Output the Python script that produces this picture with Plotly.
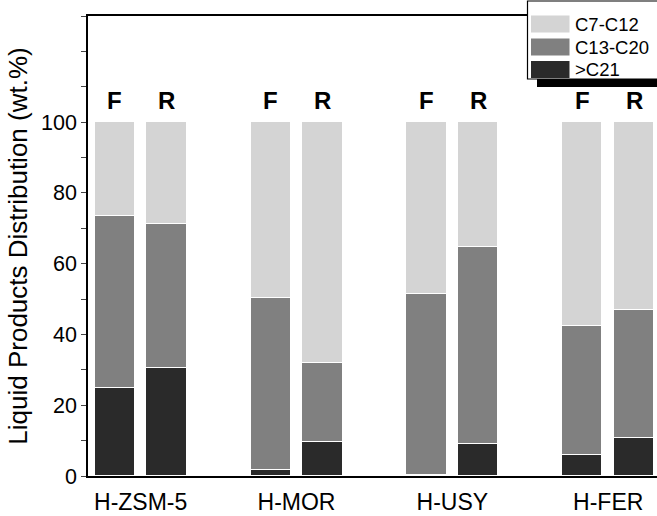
import plotly.graph_objects as go

catalysts = ["H-ZSM-5", "H-MOR", "H-USY", "H-FER"]
modes = ["F", "R"]
series_names = ["C7-C12", "C13-C20", ">C21"]

# cumulative tops, converted to segment values
gt_c21 = [25.0, 30.4, 1.6, 9.5, 0.4, 9.1, 5.9, 10.7]
c13_c20 = [73.4 - 25.0, 71.2 - 30.4, 50.4 - 1.6, 32.0 - 9.5,
           51.5 - 0.4, 64.7 - 9.1, 42.4 - 5.9, 47.0 - 10.7]
c7_c12 = [100 - 73.4, 100 - 71.2, 100 - 50.4, 100 - 32.0,
          100 - 51.5, 100 - 64.7, 100 - 42.4, 100 - 47.0]

colors = {"C7-C12": "#d4d4d4", "C13-C20": "#808080", ">C21": "#2a2a2a"}
values = {"C7-C12": c7_c12, "C13-C20": c13_c20, ">C21": gt_c21}

FONT = "Liberation Sans, Arial"
offset = 0.166
bar_w = 0.258
xpos = []
for g in range(len(catalysts)):
    for m in range(len(modes)):
        xpos.append(g + 1 + (-offset if m == 0 else offset))

fig = go.Figure()
for name in [">C21", "C13-C20", "C7-C12"]:
    fig.add_trace(go.Bar(
        x=xpos, y=values[name], name=name, width=bar_w, showlegend=False,
        marker=dict(color=colors[name], line=dict(color="white", width=1.5)),
    ))

annotations = []
for i, xp in enumerate(xpos):
    annotations.append(dict(x=xp, y=106, xref="x", yref="y", text="<b>%s</b>" % modes[i % 2],
                            showarrow=False, font=dict(size=24, color="black", family=FONT)))

L, R, T, B = 88, 0, 16, 40
W, H = 657, 516
pw, ph = W - L - R, H - T - B
def px(x): return (x - L) / pw
def py(y): return (H - B - y) / ph

# legend drawn as box with shadow, swatches and text labels
shapes = [
    dict(type="rect", xref="paper", yref="paper",
         x0=px(537), x1=px(670), y0=py(87), y1=py(9),
         fillcolor="black", line=dict(width=0), layer="above"),
    dict(type="rect", xref="paper", yref="paper",
         x0=px(527.5), x1=px(662), y0=py(79), y1=py(1),
         fillcolor="white", line=dict(color="black", width=1.2), layer="above"),
]
row_centers = [24, 47, 69.5]
for name, yc in zip(series_names, row_centers):
    shapes.append(dict(type="rect", xref="paper", yref="paper",
                       x0=px(531), x1=px(569.5), y0=py(yc + 8.5), y1=py(yc - 8.5),
                       fillcolor=colors[name], line=dict(width=0), layer="above"))
    annotations.append(dict(x=px(573), y=py(yc), xref="paper", yref="paper",
                            xanchor="left", yanchor="middle", text=name, showarrow=False,
                            font=dict(size=18.5, color="black", family=FONT)))

yt = list(range(0, 131, 10))
ytext = [str(v) if (v % 20 == 0 and v <= 100) else "" for v in yt]

fig.update_layout(
    width=W, height=H,
    margin=dict(l=L, r=R, t=T, b=B),
    barmode="stack",
    plot_bgcolor="white", paper_bgcolor="white",
    font=dict(family=FONT, color="black", size=20),
    showlegend=False,
    xaxis=dict(range=[0.662, 4.313], tickvals=[1, 2, 3, 4], ticktext=catalysts,
               ticks="", showline=True, linecolor="black", linewidth=1.5, mirror=True,
               showgrid=False, zeroline=False, tickfont=dict(size=23), ticklabelstandoff=5),
    yaxis=dict(range=[0, 130], tickvals=yt, ticktext=ytext, ticks="outside",
               ticklen=5, tickwidth=1.2, showline=True, linecolor="black", linewidth=1.5,
               showgrid=False, zeroline=False, tickfont=dict(size=21.5),
               title=dict(text="Liquid Products Distribution (wt.%)", font=dict(size=26), standoff=6)),
    annotations=annotations,
    shapes=shapes,
    bargap=0,
)

fig.write_html("out.html")
